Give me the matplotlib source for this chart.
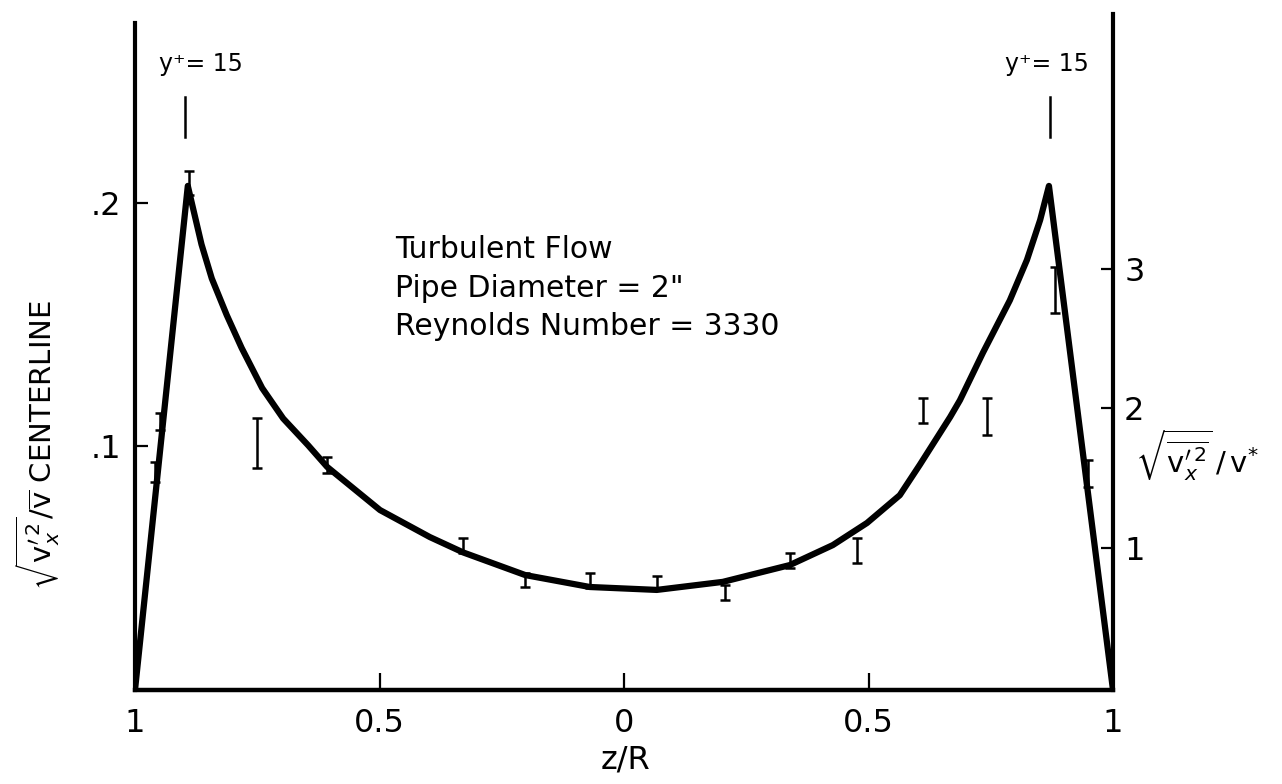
import matplotlib
matplotlib.use('Agg')
import matplotlib.pyplot as plt

plt.rcParams['font.family'] = ['DejaVu Sans']
plt.rcParams['mathtext.fontset'] = 'dejavusans'

# ---- data ----
curve_z = [-1.0, -0.892, -0.864, -0.843, -0.8125, -0.782, -0.740, -0.697, -0.646,
           -0.607, -0.499, -0.397, -0.329, -0.202, -0.070, 0.067, 0.202, 0.339,
           0.427, 0.497, 0.564, 0.605, 0.667, 0.687, 0.734, 0.789, 0.824,
           0.851, 0.869, 1.0]
curve_v = [0.0, 0.207, 0.183, 0.169, 0.154, 0.1405, 0.124, 0.1115, 0.1005,
           0.0916, 0.0739, 0.0628, 0.0565, 0.0472, 0.0423, 0.0411, 0.0444, 0.0513,
           0.0595, 0.0686, 0.0800, 0.0925, 0.1121, 0.119, 0.1385, 0.160, 0.1766,
           0.193, 0.207, 0.0]

err_z = [-0.959, -0.949, -0.890, -0.751, -0.607, -0.329, -0.202, -0.070, 0.067,
         0.207, 0.339, 0.477, 0.612, 0.742, 0.881, 0.949]
err_lo = [0.0854, 0.1068, 0.2033, 0.0912, 0.0891, 0.0563, 0.0423, 0.0419, 0.0419,
          0.0370, 0.0501, 0.0522, 0.1097, 0.1047, 0.1548, 0.0834]
err_hi = [0.0936, 0.1138, 0.2131, 0.1117, 0.0957, 0.0624, 0.0480, 0.0480, 0.0468,
          0.0431, 0.0563, 0.0624, 0.1199, 0.1199, 0.1737, 0.0945]

x_ticks = [-1.0, -0.5, 0.0, 0.5, 1.0]
x_ticklabels = ['1', '0.5', '0', '0.5', '1']
left_ticks = [0.1, 0.2]
left_ticklabels = ['.1', '.2']
right_ticks = [1, 2, 3]
right_ticklabels = ['1', '2', '3']
yplus_mark_z = [-0.898, 0.871]
yplus_text_z = [-0.865, 0.865]
info_lines = ['Turbulent Flow', 'Pipe Diameter = 2"', 'Reynolds Number = 3330']

# ---- figure ----
fig = plt.figure(figsize=(12.82, 7.84), dpi=100)
ax = fig.add_axes([135 / 1282, 1 - 690 / 784, (1113 - 135) / 1282, (690 - 14) / 784])
ax.set_xlim(-1.0, 1.0)
ax.set_ylim(0, 0.2776)

ax.plot(curve_z, curve_v, color='black', lw=4.5, solid_joinstyle='round',
        solid_capstyle='butt', zorder=3)

centers = [(a + b) / 2 for a, b in zip(err_lo, err_hi)]
halves = [(b - a) / 2 for a, b in zip(err_lo, err_hi)]
ax.errorbar(err_z, centers, yerr=halves, fmt='none', ecolor='black',
            elinewidth=1.8, capsize=3.5, capthick=1.8, zorder=4)

for s in ['top', 'right']:
    ax.spines[s].set_visible(False)
ax.spines['left'].set_linewidth(3)
ax.spines['bottom'].set_linewidth(3.2)
ax.spines['left'].set_bounds(0, 0.274)

ax.set_xticks(x_ticks)
ax.set_xticklabels(x_ticklabels, fontsize=23)
ax.set_yticks(left_ticks)
ax.set_yticklabels(left_ticklabels, fontsize=23)
ax.tick_params(axis='x', direction='in', length=12, width=1.6, pad=13)
ax.tick_params(axis='y', direction='in', length=9, width=1.6, pad=10)

ax2 = ax.twinx()
ax2.set_ylim(-0.0214, 4.83)
for s in ['top', 'left', 'bottom']:
    ax2.spines[s].set_visible(False)
ax2.spines['right'].set_linewidth(3)
ax2.set_yticks(right_ticks)
ax2.set_yticklabels(right_ticklabels, fontsize=23)
ax2.tick_params(axis='y', direction='in', length=9, width=1.6, pad=8)

# y+ = 15 markers
for mz, tz in zip(yplus_mark_z, yplus_text_z):
    ax.plot([mz, mz], [0.2271, 0.2435], color='black', lw=1.8, clip_on=False)
    ax.text(tz, 0.257, 'y\u207a= 15', fontsize=17, ha='center', va='center')

for i, line in enumerate(info_lines):
    ax.text(-0.468, 0.1807 - i * 0.0158, line, fontsize=21.5, ha='left', va='center')

fig.text(625 / 1282, 1 - 760 / 784, 'z/R', fontsize=23, ha='center', va='center')
fig.text(38 / 1282, 1 - 445 / 784,
         r'$\sqrt{\mathrm{v}_{x}^{\prime\,2}}/\overline{\mathrm{v}}$ CENTERLINE',
         fontsize=21, rotation=90, ha='center', va='center')
fig.text(1197 / 1282, 1 - 455 / 784,
         r'$\sqrt{\overline{\mathrm{v}_{x}^{\prime\,2}}}\,/\,\mathrm{v}^{*}$',
         fontsize=21, ha='center', va='center')

fig.savefig('out.png', dpi=100)
